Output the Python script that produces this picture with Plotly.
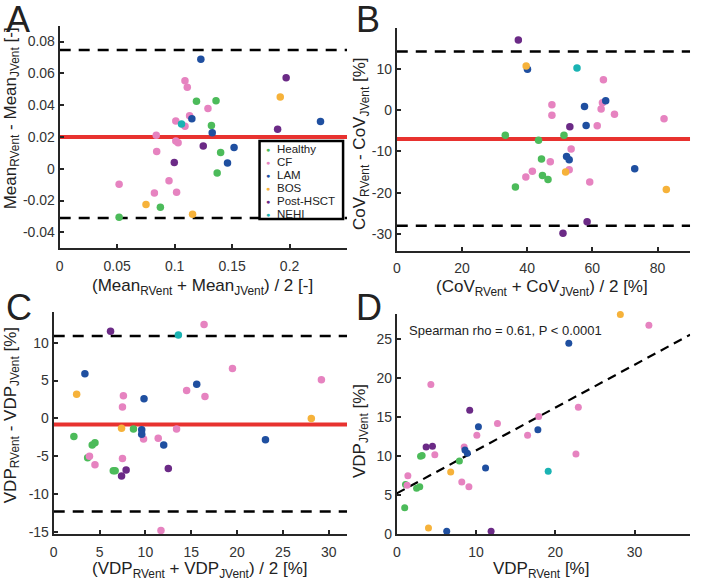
import plotly.graph_objects as go

W, H = 709, 588
groups = ["Healthy", "CF", "LAM", "BOS", "Post-HSCT", "NEHI"]
colors = {"Healthy": "#4cbb5a", "CF": "#e683c0", "LAM": "#1f4fa0",
          "BOS": "#f6b23a", "Post-HSCT": "#6b2a86", "NEHI": "#1ab3b3"}

# ---------- Panel A: Mean ----------
A_x = {
    "Healthy": [0.119, 0.136, 0.132, 0.140, 0.137, 0.0876, 0.0517],
    "CF": [0.109, 0.111, 0.129, 0.113, 0.101, 0.109, 0.084, 0.101, 0.103, 0.0844, 0.0517, 0.0951, 0.0824, 0.1017],
    "LAM": [0.1228, 0.115, 0.1327, 0.1517, 0.146, 0.2269],
    "BOS": [0.1919, 0.0751, 0.1156],
    "Post-HSCT": [0.197, 0.1896, 0.1249, 0.0997],
    "NEHI": [0.106],
}
A_y = {
    "Healthy": [0.0425, 0.0427, 0.0272, 0.0103, -0.0027, -0.0242, -0.0305],
    "CF": [0.0554, 0.0512, 0.0379, 0.0333, 0.0301, 0.0267, 0.021, 0.0175, 0.0164, 0.0109, -0.0097, -0.0076, -0.0152, -0.0147],
    "LAM": [0.0688, 0.0314, 0.0227, 0.0133, 0.0036, 0.0297],
    "BOS": [0.0451, -0.0225, -0.0286],
    "Post-HSCT": [0.0573, 0.0248, 0.0143, 0.004],
    "NEHI": [0.0282],
}
A_bias = 0.020
A_limits = [0.0747, -0.031]
A_xrange = [0, 0.25]
A_yrange = [-0.05, 0.09]
A_xticks = [0, 0.05, 0.1, 0.15, 0.2]
A_xticklabels = ["0", "0.05", "0.1", "0.15", "0.2"]
A_yticks = [-0.04, -0.02, 0, 0.02, 0.04, 0.06, 0.08]
A_yticklabels = ["-0.04", "-0.02", "0", "0.02", "0.04", "0.06", "0.08"]

# ---------- Panel B: CoV ----------
B_x = {
    "Healthy": [33.3, 43.5, 51.3, 44.4, 44.7, 46.4, 36.4],
    "CF": [63.4, 63.1, 62.7, 66.8, 61.5, 82.0, 47.6, 47.6, 53.5, 47.1, 52.9, 41.6, 39.6, 59.2],
    "LAM": [40.1, 57.6, 64.1, 58.1, 52.1, 52.9, 73.0],
    "BOS": [39.7, 51.8, 82.7],
    "Post-HSCT": [37.3, 53.1, 58.4, 51.0],
    "NEHI": [55.3],
}
B_y = {
    "Healthy": [-6.1, -7.3, -6.1, -11.8, -15.8, -16.8, -18.6],
    "CF": [7.4, 1.8, 0.3, -1.0, -3.8, -2.1, 1.3, -1.2, -9.4, -12.5, -14.4, -14.8, -16.2, -17.4],
    "LAM": [9.9, 0.9, 2.3, -3.7, -11.2, -12.0, -14.2],
    "BOS": [10.7, -15.0, -19.2],
    "Post-HSCT": [17.0, -4.0, -27.0, -29.8],
    "NEHI": [10.2],
}
B_bias = -7.0
B_limits = [14.2, -28.0]
B_xrange = [0, 90]
B_yrange = [-34, 20]
B_xticks = [0, 20, 40, 60, 80]
B_yticks = [-30, -20, -10, 0, 10]
B_yticklabels = ["-30", "-20", "-10", "0", "10"]

# ---------- Panel C: VDP Bland-Altman ----------
C_x = {
    "Healthy": [2.2, 8.7, 4.2, 4.5, 3.7, 6.5, 6.7],
    "CF": [16.4, 19.5, 29.2, 14.5, 16.5, 7.6, 7.5, 13.4, 9.8, 11.4, 3.9, 4.5, 7.5, 11.7],
    "LAM": [3.4, 9.85, 15.6, 9.6, 9.6, 12.0, 23.1],
    "BOS": [2.5, 7.4, 28.1],
    "Post-HSCT": [6.2, 7.4, 7.9, 12.5],
    "NEHI": [13.6],
}
C_y = {
    "Healthy": [-2.4, -1.4, -3.5, -3.2, -5.2, -6.9, -6.9],
    "CF": [12.4, 6.6, 5.1, 3.7, 2.9, 3.0, 1.5, -1.4, -2.7, -2.6, -5.0, -6.1, -5.3, -14.8],
    "LAM": [5.9, 2.6, 4.5, -1.5, -2.1, -3.5, -2.8],
    "BOS": [3.2, -1.3, 0.0],
    "Post-HSCT": [11.5, -7.6, -6.8, -6.6],
    "NEHI": [11.0],
}
C_bias = -0.8
C_limits = [10.88, -12.28]
C_xrange = [0, 32]
C_yrange = [-15.3, 14]
C_xticks = [0, 5, 10, 15, 20, 25, 30]
C_yticks = [-15, -10, -5, 0, 5, 10]
C_yticklabels = ["-15", "-10", "-5", "0", "5", "10"]

# ---------- Panel D: correlation ----------
D_x = {
    "Healthy": [1.0, 3.0, 3.2, 7.9, 2.5, 2.9, 1.1],
    "CF": [31.8, 4.3, 22.9, 17.9, 12.7, 10.1, 16.5, 8.5, 4.8, 22.6, 1.4, 1.3, 8.2, 9.1],
    "LAM": [21.7, 10.3, 17.8, 8.6, 8.9, 11.2, 6.3],
    "BOS": [28.2, 6.8, 4.0],
    "Post-HSCT": [9.2, 3.7, 4.5, 11.9],
    "NEHI": [19.1],
}
D_y = {
    "Healthy": [3.4, 10.0, 10.1, 9.4, 5.9, 6.1, 6.4],
    "CF": [26.8, 19.2, 16.3, 15.1, 14.2, 12.7, 12.7, 11.2, 10.2, 10.3, 7.5, 6.3, 6.7, 6.1],
    "LAM": [24.5, 13.8, 13.4, 10.8, 10.4, 8.5, 0.4],
    "BOS": [28.2, 8.0, 0.8],
    "Post-HSCT": [15.9, 11.2, 11.3, 0.4],
    "NEHI": [8.1],
}
D_fit_x = [0, 37]
D_fit_y = [5.25, 25.6]
D_xrange = [0, 37]
D_yrange = [0, 28.3]
D_xticks = [0, 10, 20, 30]
D_yticks = [0, 5, 10, 15, 20, 25]

FONT = "Liberation Sans, Arial, Helvetica, sans-serif"
AX = "#262626"

fig = go.Figure()

panels = [
    ("x", "y", A_x, A_y, 7.5),
    ("x2", "y2", B_x, B_y, 7.5),
    ("x3", "y3", C_x, C_y, 7.5),
    ("x4", "y4", D_x, D_y, 7),
]

ref_lines = [
    ("x", "y", A_xrange, A_bias, A_limits),
    ("x2", "y2", B_xrange, B_bias, B_limits),
    ("x3", "y3", C_xrange, C_bias, C_limits),
]
for xa, ya, xr, bias, lims in ref_lines:
    for lv in lims:
        fig.add_trace(go.Scatter(x=xr, y=[lv, lv], mode="lines", xaxis=xa, yaxis=ya,
                                 line=dict(color="black", width=2.5, dash="11px,8px"),
                                 showlegend=False, hoverinfo="skip", cliponaxis=True))
    fig.add_trace(go.Scatter(x=xr, y=[bias, bias], mode="lines", xaxis=xa, yaxis=ya,
                             line=dict(color="#e8322f", width=4),
                             showlegend=False, hoverinfo="skip", cliponaxis=True))

fig.add_trace(go.Scatter(x=D_fit_x, y=D_fit_y, mode="lines", xaxis="x4", yaxis="y4",
                         line=dict(color="black", width=2.2, dash="9px,6px"),
                         showlegend=False, hoverinfo="skip"))

for xa, ya, dx, dy, ms in panels:
    for g in groups:
        fig.add_trace(go.Scatter(x=dx[g], y=dy[g], mode="markers", xaxis=xa, yaxis=ya,
                                 name=g, showlegend=False,
                                 marker=dict(color=colors[g], size=ms, line=dict(width=0)),
                                 cliponaxis=False))

def px(v):
    return v / W

def py(v):
    return 1 - v / H

dom = {
    "A": ([56, 345], [251.7, 26]),
    "B": ([395, 690], [254, 28]),
    "C": ([50, 345], [541.7, 316.7]),
    "D": ([395, 690], [541.7, 318]),
}

def axis(domain, rng, tickvals, ticktext, anchor, isx):
    d = dict(domain=domain, range=rng, tickvals=tickvals, ticktext=ticktext,
             anchor=anchor, showgrid=False, zeroline=False, showline=True,
             linecolor=AX, linewidth=2, ticks="inside", ticklen=4, tickwidth=1.5,
             tickcolor=AX, mirror=False,
             tickfont=dict(family=FONT, size=14, color="#333333"))
    if isx:
        d["ticklabelstandoff"] = 4
    return d

def xd(k):
    a, b = dom[k][0]
    return [px(a), px(b)]

def yd(k):
    a, b = dom[k][1]
    return [py(a), py(b)]

fig.update_layout(
    width=W, height=H, margin=dict(l=0, r=0, t=0, b=0),
    paper_bgcolor="white", plot_bgcolor="white",
    xaxis=axis(xd("A"), A_xrange, A_xticks, A_xticklabels, "y", True),
    yaxis=axis(yd("A"), A_yrange, A_yticks, A_yticklabels, "x", False),
    xaxis2=axis(xd("B"), B_xrange, B_xticks, [str(v) for v in B_xticks], "y2", True),
    yaxis2=axis(yd("B"), B_yrange, B_yticks, B_yticklabels, "x2", False),
    xaxis3=axis(xd("C"), C_xrange, C_xticks, [str(v) for v in C_xticks], "y3", True),
    yaxis3=axis(yd("C"), C_yrange, C_yticks, C_yticklabels, "x3", False),
    xaxis4=axis(xd("D"), D_xrange, D_xticks, [str(v) for v in D_xticks], "y4", True),
    yaxis4=axis(yd("D"), D_yrange, D_yticks, [str(v) for v in D_yticks], "x4", False),
    showlegend=False,
    font=dict(family=FONT, color="#222222"),
)

# manual legend box (panel A), drawn over the lower limit line
fig.add_shape(type="rect", xref="paper", yref="paper",
              x0=px(257), x1=px(341), y0=py(222), y1=py(143),
              line=dict(color="black", width=2.5), fillcolor="white", layer="above")

ann = []
def text(x, y, t, size, angle=0, xanchor="center", yanchor="middle", color="#222222"):
    ann.append(dict(x=px(x), y=py(y), xref="paper", yref="paper", text=t, showarrow=False,
                    textangle=angle, xanchor=xanchor, yanchor=yanchor,
                    font=dict(family=FONT, size=size, color=color)))

for i, g in enumerate(groups):
    yy = 151.5 + i * 13.1
    text(266, yy, "●", 7, color=colors[g])
    text(273, yy, g, 11.5, xanchor="left")

# panel letters
text(0, 20, "A", 36, xanchor="left")
text(352, 20, "B", 36, xanchor="left")
text(0, 312, "C", 36, xanchor="left")
text(352, 312, "D", 36, xanchor="left")
# axis titles
text(200, 291, "(Mean<sub>RVent</sub> + Mean<sub>JVent</sub>) / 2 [-]", 17)
text(8, 120, "Mean<sub>RVent</sub> - Mean<sub>JVent</sub> [-]", 17, angle=-90)
text(541, 292, "(CoV<sub>RVent</sub> + CoV<sub>JVent</sub>) / 2 [%]", 17)
text(359, 145, "CoV<sub>RVent</sub> - CoV<sub>JVent</sub> [%]", 17, angle=-90)
text(197, 578, "(VDP<sub>RVent</sub> + VDP<sub>JVent</sub>) / 2 [%]", 17)
text(8, 421, "VDP<sub>RVent</sub> - VDP<sub>JVent</sub> [%]", 17, angle=-90)
text(540, 578, "VDP<sub>RVent</sub> [%]", 17)
text(359, 437, "VDP<sub>JVent</sub> [%]", 17, angle=-90)
text(405, 335, "Spearman rho = 0.61, P < 0.0001", 13, xanchor="left")

fig.update_layout(annotations=ann)
fig.write_html("out.html")
